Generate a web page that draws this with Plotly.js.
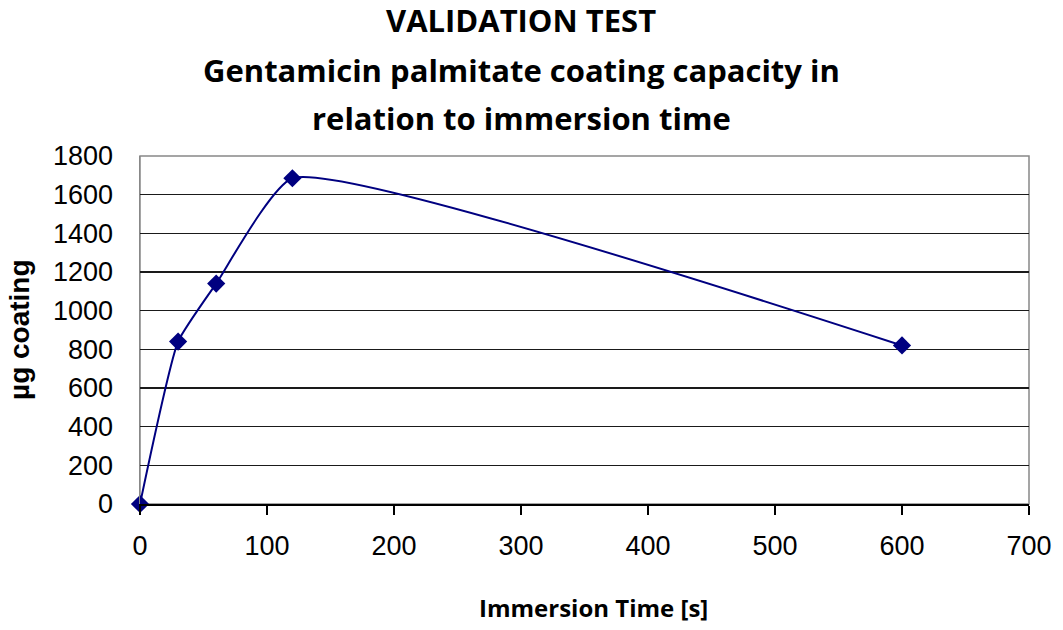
<!DOCTYPE html>
<html><head><meta charset="utf-8">
<script src="https://cdn.plot.ly/plotly-3.0.1.min.js"></script>
<style>html,body{margin:0;padding:0;background:#fff}</style>
</head><body>
<div id="chart" style="width:1063px;height:630px"></div>
<script>
const timeSec = [0, 30, 60, 120, 600];
const coatingUg = [0, 840, 1140, 1685, 820];
const xTicks = [0, 100, 200, 300, 400, 500, 600, 700];
const yTicks = [0, 200, 400, 600, 800, 1000, 1200, 1400, 1600, 1800];
const titleLines = ['VALIDATION TEST', 'Gentamicin palmitate coating capacity in', 'relation to immersion time'];
const xTitle = 'Immersion Time [s]';
const yTitle = 'µg coating';

const trace = {
  x: timeSec, y: coatingUg, type: 'scatter', mode: 'lines+markers',
  line: {color: '#000080', width: 2, shape: 'spline', smoothing: 0.45},
  marker: {symbol: 'diamond', size: 14, color: '#000080'},
  cliponaxis: false, hoverinfo: 'none'
};
const titleY = [1.3908, 1.2471, 1.1092];
const annotations = titleLines.map((t, i) => ({
  text: '<b>' + t + '</b>', xref: 'paper', yref: 'paper', x: 0.4286, y: titleY[i],
  xanchor: 'center', yanchor: 'middle', showarrow: false,
  font: {family: 'Open Sans, sans-serif', size: 31, color: '#000'}
}));
annotations.push({
  text: '<b>' + xTitle + '</b>', xref: 'paper', yref: 'paper', x: 0.5096, y: -0.296,
  xanchor: 'center', yanchor: 'middle', showarrow: false,
  font: {family: 'Open Sans, sans-serif', size: 24, color: '#000'}
});
annotations.push({
  text: '<b>' + yTitle + '</b>', xref: 'paper', yref: 'paper', x: -0.1361, y: 0.5,
  xanchor: 'center', yanchor: 'middle', showarrow: false, textangle: -90,
  font: {family: 'Liberation Sans, Arial, sans-serif', size: 28, color: '#000'}
});
const layout = {
  width: 1063, height: 630,
  margin: {l: 140, r: 34, t: 156, b: 126},
  paper_bgcolor: '#fff', plot_bgcolor: '#fff',
  showlegend: false,
  xaxis: {
    range: [0, 700], tickvals: xTicks, ticktext: xTicks.map(String),
    showgrid: false, zeroline: false,
    showline: true, linecolor: '#000', linewidth: 2, mirror: false,
    ticks: 'outside', ticklen: 9, tickcolor: '#000', tickwidth: 1.3,
    ticklabelstandoff: 8,
    tickfont: {family: 'Liberation Sans, Arial, sans-serif', size: 27, color: '#000'}
  },
  yaxis: {
    range: [0, 1800], tickvals: yTicks, ticktext: yTicks.map(String),
    showgrid: true, gridcolor: '#1a1a1a', gridwidth: 1.3, zeroline: false,
    showline: true, linecolor: '#888', linewidth: 1.5, mirror: false,
    ticks: '', ticklabelstandoff: 20,
    tickfont: {family: 'Liberation Sans, Arial, sans-serif', size: 27, color: '#000'}
  },
  annotations: annotations,
  shapes: [
    {type: 'rect', xref: 'paper', yref: 'paper', x0: 0, x1: 1, y0: 0, y1: 1,
     line: {color: '#888', width: 1.5}, layer: 'below'}
  ]
};
Plotly.newPlot('chart', [trace], layout, {displayModeBar: false, staticPlot: true});
</script>
</body></html>
